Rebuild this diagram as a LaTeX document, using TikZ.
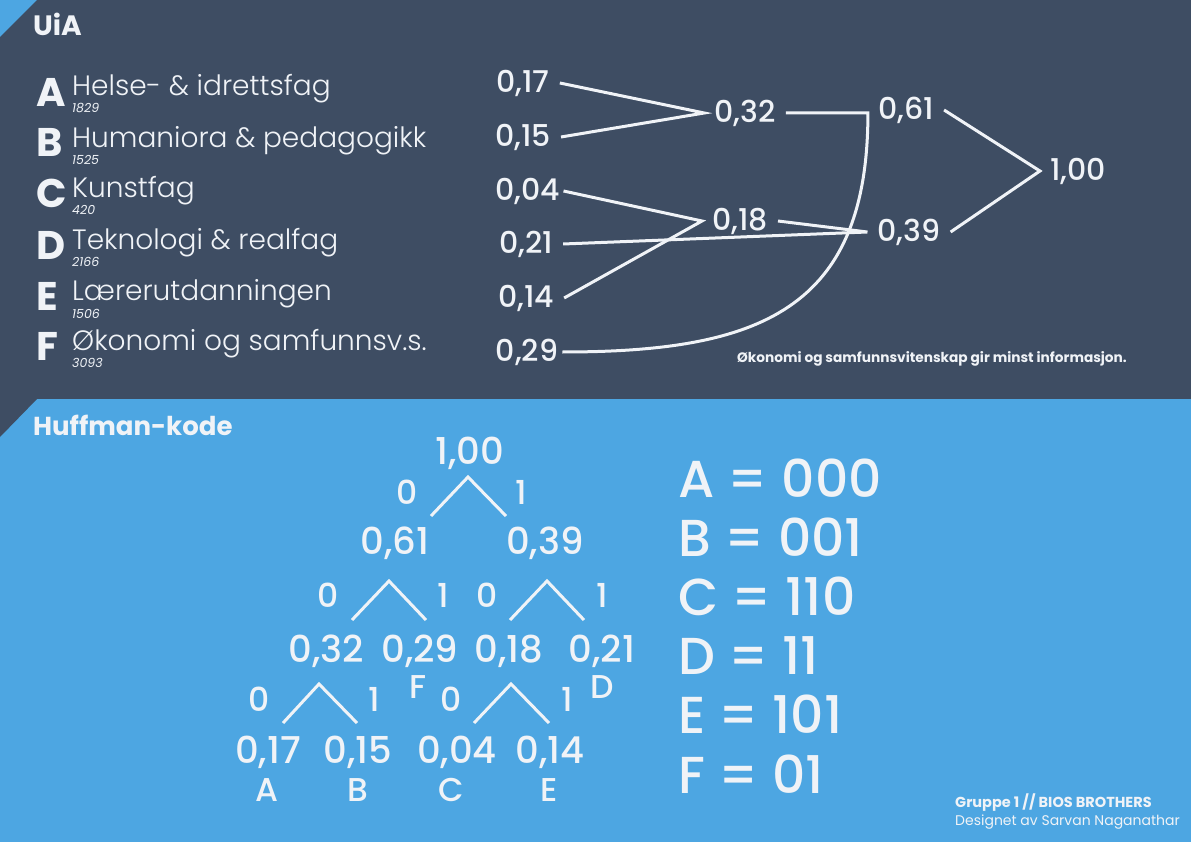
\documentclass[tikz,border=0pt]{standalone}
\usepackage{fontspec}
\setmainfont{Poppins}
\newfontfamily\tynnfont{Poppins Light}
\newfontfamily\mediumfont{Poppins Medium}
\usetikzlibrary{calc,positioning}
\definecolor{uiamork}{RGB}{62,77,99}
\definecolor{uiablaa}{RGB}{77,166,226}
\definecolor{uiahvit}{RGB}{240,243,247}

\begin{document}
\begin{tikzpicture}[x=1pt,y=-1pt,
	sannsyn/.style={text=uiahvit,font=\fontsize{30}{32}\selectfont\mediumfont,inner sep=10pt},
	linje/.style={draw=uiahvit,line width=3pt},
	bokstav/.style={text=uiahvit,font=\fontsize{40}{42}\selectfont\bfseries,anchor=base west,inner sep=0pt},
	fagnavn/.style={text=uiahvit,font=\fontsize{28}{30}\selectfont\tynnfont,anchor=base west,inner sep=0pt,text depth=0pt},
	antall/.style={text=uiahvit,font=\fontsize{12.5}{13}\selectfont\itshape,anchor=base west,inner sep=0pt,text height=9pt},
	treverdi/.style={text=uiahvit,font=\fontsize{37}{39}\selectfont\mediumfont,anchor=base,inner sep=0pt},
	bit/.style={text=uiahvit,font=\fontsize{33}{35}\selectfont\mediumfont,anchor=base,inner sep=0pt},
	kode/.style={text=uiahvit,font=\fontsize{52}{54}\selectfont\mediumfont,anchor=base west,inner sep=0pt}]
	\useasboundingbox (0,0) rectangle (1191,842);
	% bakgrunn
	\fill[uiamork] (0,0) rectangle (1191,399);
	\fill[uiablaa] (0,399) rectangle (1191,842);
	\fill[uiablaa] (0,0) -- (37,0) -- (0,37) -- cycle;
	\fill[uiamork] (0,399) -- (37,399) -- (0,437) -- cycle;
	\node[text=uiahvit,font=\fontsize{28}{30}\selectfont\bfseries,anchor=base west,inner sep=0pt] (uia) at (33,36) {UiA};
	\node[text=uiahvit,font=\fontsize{26}{28}\selectfont\bfseries,anchor=base west,inner sep=0pt] (huff) at (33,435) {Huffman-kode};
	% fagomraader
	\node[bokstav] (bA) at (36,107) {A};
	\node[fagnavn] (fA) at (72,96) {Helse- \& idrettsfag};
	\node[antall] (tA) at (72,113) {1829};
	\node[bokstav] (bB) at (36,157) {B};
	\node[fagnavn] (fB) at (72,148) {Humaniora \& pedagogikk};
	\node[antall] (tB) at (72,165) {1525};
	\node[bokstav] (bC) at (36,208) {C};
	\node[fagnavn] (fC) at (72,198) {Kunstfag};
	\node[antall] (tC) at (72,215) {420};
	\node[bokstav] (bD) at (36,260) {D};
	\node[fagnavn] (fD) at (72,250) {Teknologi \& realfag};
	\node[antall] (tD) at (72,267) {2166};
	\node[bokstav] (bE) at (36,310) {E};
	\node[fagnavn] (fE) at (72,301) {Lærerutdanningen};
	\node[antall] (tE) at (72,318) {1506};
	\node[bokstav] (bF) at (36,360) {F};
	\node[fagnavn] (fF) at (72,350) {Økonomi og samfunnsv.s.};
	\node[antall] (tF) at (72,367) {3093};
	% sammenslaaing
	\node[sannsyn] (n017) at (523,83) {0,17};
	\node[sannsyn] (n015) at (523,137) {0,15};
	\node[sannsyn] (n004) at (528,191) {0,04};
	\node[sannsyn] (n021) at (526,244) {0,21};
	\node[sannsyn] (n014) at (526,298) {0,14};
	\node[sannsyn] (n029) at (527,352) {0,29};
	\node[sannsyn] (n032) at (745,113) {0,32};
	\node[sannsyn] (n018) at (740,221) {0,18};
	\node[sannsyn] (n061) at (906,110) {0,61};
	\node[sannsyn] (n039) at (909,232) {0,39};
	\node[sannsyn] (n100) at (1078,171) {1,00};
	\coordinate (j061) at (n061.west |- n032.east);
	\draw[linje] (n017.east) -- (n032.west) -- (n015.east);
	\draw[linje] ([xshift=-7pt]n004.east) -- (n018.west) -- (n014.east);
	\draw[linje] (n018.east) -- (n039.west) -- (n021.east);
	\draw[linje] (n032.east) -- (j061) to[out=-90,in=0,looseness=1.3] ([xshift=-6pt]n029.east);
	\draw[linje] (n061.east) -- (n100.west) -- (n039.east);
	\node[text=uiahvit,font=\fontsize{13.7}{15}\selectfont\bfseries,anchor=base east,inner sep=0pt] (merk) at (1127,362) {Økonomi og samfunnsvitenskap gir minst informasjon.};
	% huffman-tre
	\node[treverdi] (t100) at (470,464) {1,00};
	\node[treverdi] (t061) at (395,554) {0,61};
	\node[treverdi] (t039) at (545,554) {0,39};
	\node[treverdi] (t032) at (326,662) {0,32};
	\node[treverdi] (t029) at (420,662) {0,29};
	\node[treverdi] (t018) at (509,662) {0,18};
	\node[treverdi] (t021) at (602,662) {0,21};
	\node[treverdi] (t017) at (268,763) {0,17};
	\node[treverdi] (t015) at (358,763) {0,15};
	\node[treverdi] (t004) at (457,763) {0,04};
	\node[treverdi] (t014) at (550,763) {0,14};
	\node[bit] (lA) at (267,801) {A};
	\node[bit] (lB) at (358,801) {B};
	\node[bit] (lC) at (451,801) {C};
	\node[bit] (lE) at (549,801) {E};
	\node[bit] (lF) at (418,698) {F};
	\node[bit] (lD) at (602,698) {D};
	\node[bit] (b0a) at (407,504) {0};
	\node[bit] (b1a) at (521,504) {1};
	\node[bit] (b0b) at (328,607) {0};
	\node[bit] (b1b) at (443,607) {1};
	\node[bit] (b0c) at (487,607) {0};
	\node[bit] (b1c) at (602,607) {1};
	\node[bit] (b0d) at (259,711) {0};
	\node[bit] (b1d) at (374,711) {1};
	\node[bit] (b0e) at (451,711) {0};
	\node[bit] (b1e) at (567,711) {1};
	\draw[linje] (431,516) -- (468,477) -- (506,516);
	\draw[linje] (352,620) -- (389,581) -- (426,620);
	\draw[linje] (510,620) -- (547,581) -- (584,620);
	\draw[linje] (283,723) -- (319,684) -- (357,723);
	\draw[linje] (474,723) -- (511,684) -- (549,723);
	% koder
	\node[kode] (kA) at (678,497) {A = 000};
	\node[kode] (kB) at (678,556) {B = 001};
	\node[kode] (kC) at (678,615) {C = 110};
	\node[kode] (kD) at (678,674) {D = 11};
	\node[kode] (kE) at (678,733) {E = 101};
	\node[kode] (kF) at (678,793) {F = 01};
	\node[text=uiahvit,font=\fontsize{14.5}{16}\selectfont\bfseries,anchor=base west,inner sep=0pt] (grp) at (955,807) {Gruppe 1 // BIOS BROTHERS};
	\node[text=uiahvit,font=\fontsize{14}{16}\selectfont,anchor=base west,inner sep=0pt] (des) at (955,825) {Designet av Sarvan Naganathar};
\end{tikzpicture}
\end{document}
